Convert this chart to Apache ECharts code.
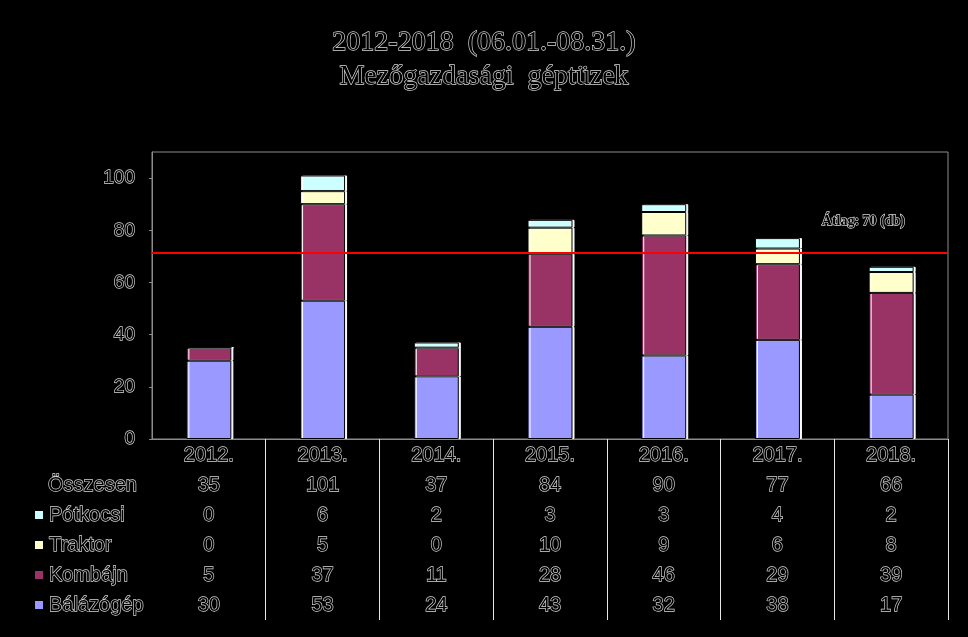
<!DOCTYPE html>
<html>
<head>
<meta charset="utf-8">
<title>Mezőgazdasági géptüzek</title>
<script src="https://cdn.jsdelivr.net/npm/echarts@6/dist/echarts.min.js"></script>
<style>
  html, body { margin: 0; padding: 0; background: #000; }
  #chart { width: 968px; height: 637px; }
</style>
</head>
<body>
<div id="chart"></div>
<script>
// adatok
var evek = ['2012.', '2013.', '2014.', '2015.', '2016.', '2017.', '2018.'];
var balazogep = [30, 53, 24, 43, 32, 38, 17];
var kombajn = [5, 37, 11, 28, 46, 29, 39];
var traktor = [0, 5, 0, 10, 9, 6, 8];
var potkocsi = [0, 6, 2, 3, 3, 4, 2];
var osszesen = [35, 101, 37, 84, 90, 77, 66];
var atlagSzint = [71.5];
var atlagFelirat = 'Átlag: 70 (db)';

// körvonalas szöveg (fekete kitöltés, világos kontúr)
var outline = {
  color: '#000',
  textBorderColor: '#d8d8d8',
  textBorderWidth: 1.3
};

function bar(name, data, color) {
  return {
    name: name,
    type: 'bar',
    stack: 'total',
    data: data,
    barWidth: 45,
    itemStyle: {
      color: color,
      borderColor: '#000',
      borderWidth: 1,
      shadowColor: '#fff',
      shadowOffsetX: 2,
      shadowBlur: 0
    }
  };
}

var chart = echarts.init(document.getElementById('chart'));

var series = [
  bar('Bálázógép', balazogep, '#9999ff'),
  bar('Kombájn', kombajn, '#993366'),
  bar('Traktor', traktor, '#ffffcc'),
  bar('Pótkocsi', potkocsi, '#ccffff')
];

series[3].markLine = {
  silent: true,
  symbol: 'none',
  lineStyle: { color: '#ff0000', width: 2, type: 'solid' },
  label: Object.assign({
    formatter: atlagFelirat,
    position: 'insideEndTop',
    distance: [43, 24],
    fontFamily: 'Liberation Serif',
    fontWeight: 'bold',
    fontSize: 14
  }, outline),
  data: [{ yAxis: atlagSzint[0] }]
};

var option = {
  backgroundColor: '#000',
  animation: false,
  title: [
    {
      text: '2012-2018  (06.01.-08.31.)\nMezőgazdasági  géptüzek',
      left: 'center',
      top: 26,
      padding: 0,
      textStyle: Object.assign({
        fontFamily: 'Liberation Serif',
        fontWeight: 'normal',
        fontSize: 28,
        lineHeight: 34
      }, outline)
    },
    {
      text: 'Összesen',
      left: 48,
      top: 470,
      padding: 0,
      textStyle: Object.assign({
        fontFamily: 'Liberation Sans',
        fontWeight: 'normal',
        fontSize: 20,
        lineHeight: 30
      }, outline)
    }
  ],
  legend: {
    orient: 'vertical',
    left: 33,
    top: 500,
    padding: 0,
    itemGap: 0,
    itemWidth: 10,
    itemHeight: 10,
    icon: 'rect',
    data: ['Pótkocsi', 'Traktor', 'Kombájn', 'Bálázógép'],
    textStyle: Object.assign({
      fontFamily: 'Liberation Sans',
      fontSize: 20,
      lineHeight: 30
    }, outline)
  },
  grid: {
    left: 152,
    right: 20,
    top: 152,
    bottom: 198,
    show: true,
    borderColor: '#8c8c8c',
    borderWidth: 1,
    backgroundColor: '#000'
  },
  xAxis: {
    type: 'category',
    data: evek,
    axisLine: { lineStyle: { color: '#8c8c8c', width: 1 } },
    axisTick: {
      show: true,
      length: 181,
      interval: function (i) { return i > 0; },
      lineStyle: { color: '#e6e6e6', width: 1 }
    },
    axisLabel: Object.assign({
      interval: 0,
      margin: 1,
      fontFamily: 'Liberation Sans',
      fontSize: 20,
      lineHeight: 30,
      formatter: function (v, i) {
        return [v, osszesen[i], potkocsi[i], traktor[i], kombajn[i], balazogep[i]].join('\n');
      }
    }, outline)
  },
  yAxis: {
    type: 'value',
    min: 0,
    max: 110,
    interval: 20,
    axisLine: { show: true, lineStyle: { color: '#8c8c8c' } },
    axisTick: { show: true, length: 3, lineStyle: { color: '#8c8c8c' } },
    splitLine: { show: false },
    axisLabel: Object.assign({
      showMaxLabel: false,
      margin: 17,
      fontFamily: 'Liberation Sans',
      fontSize: 19
    }, outline)
  },
  series: series
};

chart.setOption(option);
window.addEventListener('resize', function () { chart.resize(); });
</script>
</body>
</html>
